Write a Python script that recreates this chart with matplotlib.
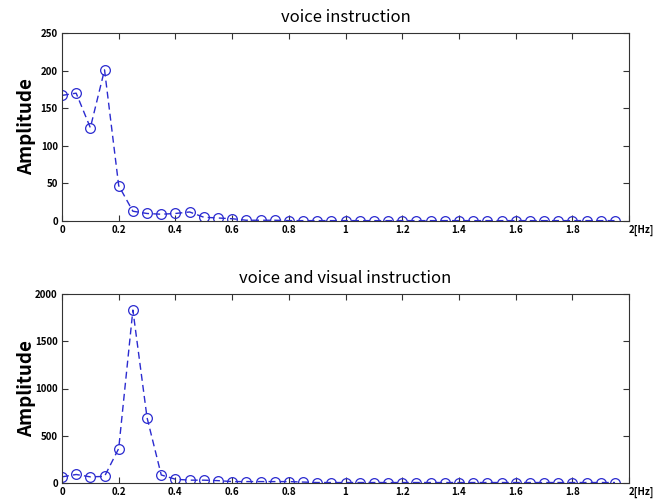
import numpy as np
import matplotlib
matplotlib.use("Agg")
import matplotlib.pyplot as plt

# frequency bins (Hz)
freq = [round(0.05 * i, 2) for i in range(40)]

# voice instruction
amp_voice = [167, 170, 124, 201, 47, 13, 10, 9, 10, 12,
             5, 4, 3, 1, 1, 1, 0.5, 0.5, 0.5, 0.5,
             0.5, 0.5, 0.5, 0.5, 0.5, 0.5, 0.5, 0.5, 0.5, 0.5,
             0.5, 0.5, 0.5, 0.5, 0.5, 0.5, 0.5, 0.5, 0.5, 0.5]

# voice and visual instruction
amp_visual = [65, 90, 65, 70, 365, 1830, 690, 85, 40, 30,
              30, 25, 15, 15, 15, 15, 15, 10, 5, 5,
              5, 5, 5, 5, 5, 5, 5, 5, 5, 5,
              5, 5, 5, 5, 5, 5, 5, 5, 5, 5]

xticks = [0, 0.2, 0.4, 0.6, 0.8, 1, 1.2, 1.4, 1.6, 1.8, 2]
xticklabels = ['0', '0.2', '0.4', '0.6', '0.8', '1', '1.2', '1.4', '1.6', '1.8', '2[Hz]']

plt.rcParams['font.family'] = ['Noto Sans CJK KR', 'DejaVu Sans']

fig = plt.figure(figsize=(6.63, 5), dpi=100)
ax1 = fig.add_axes([0.0935, 0.558, 0.8555, 0.376])
ax2 = fig.add_axes([0.0935, 0.034, 0.8555, 0.378])

blue = '#2b2bd0'

def draw(ax, y, title, ymax, yticks):
    ax.plot(freq, y, '--o', color=blue, mfc='none', mec=blue, ms=7, lw=1.0, mew=0.9,
            dashes=(5, 3))
    ax.set_xlim(0, 2)
    ax.set_ylim(0, ymax)
    ax.set_xticks(xticks)
    ax.set_xticklabels(xticklabels)
    ax.set_yticks(yticks)
    ax.tick_params(direction='in', top=True, right=True, length=4, width=0.8,
                   labelsize=7, pad=3, color='#333333')
    for lab in ax.get_xticklabels() + ax.get_yticklabels():
        lab.set_fontweight('bold')
    last = ax.get_xticklabels()[-1]
    last.set_horizontalalignment('left')
    for s in ax.spines.values():
        s.set_linewidth(0.8)
        s.set_color('#333333')
    ax.set_ylabel('Amplitude', fontsize=13.5, fontweight='bold')
    ax.yaxis.set_label_coords(-0.045, 0.5)
    ax.set_title(title, fontsize=12, pad=8)

draw(ax1, amp_voice, 'voice instruction', 250, [0, 50, 100, 150, 200, 250])
draw(ax2, amp_visual, 'voice and visual instruction', 2000, [0, 500, 1000, 1500, 2000])

fig.savefig('out.png', dpi=100)
